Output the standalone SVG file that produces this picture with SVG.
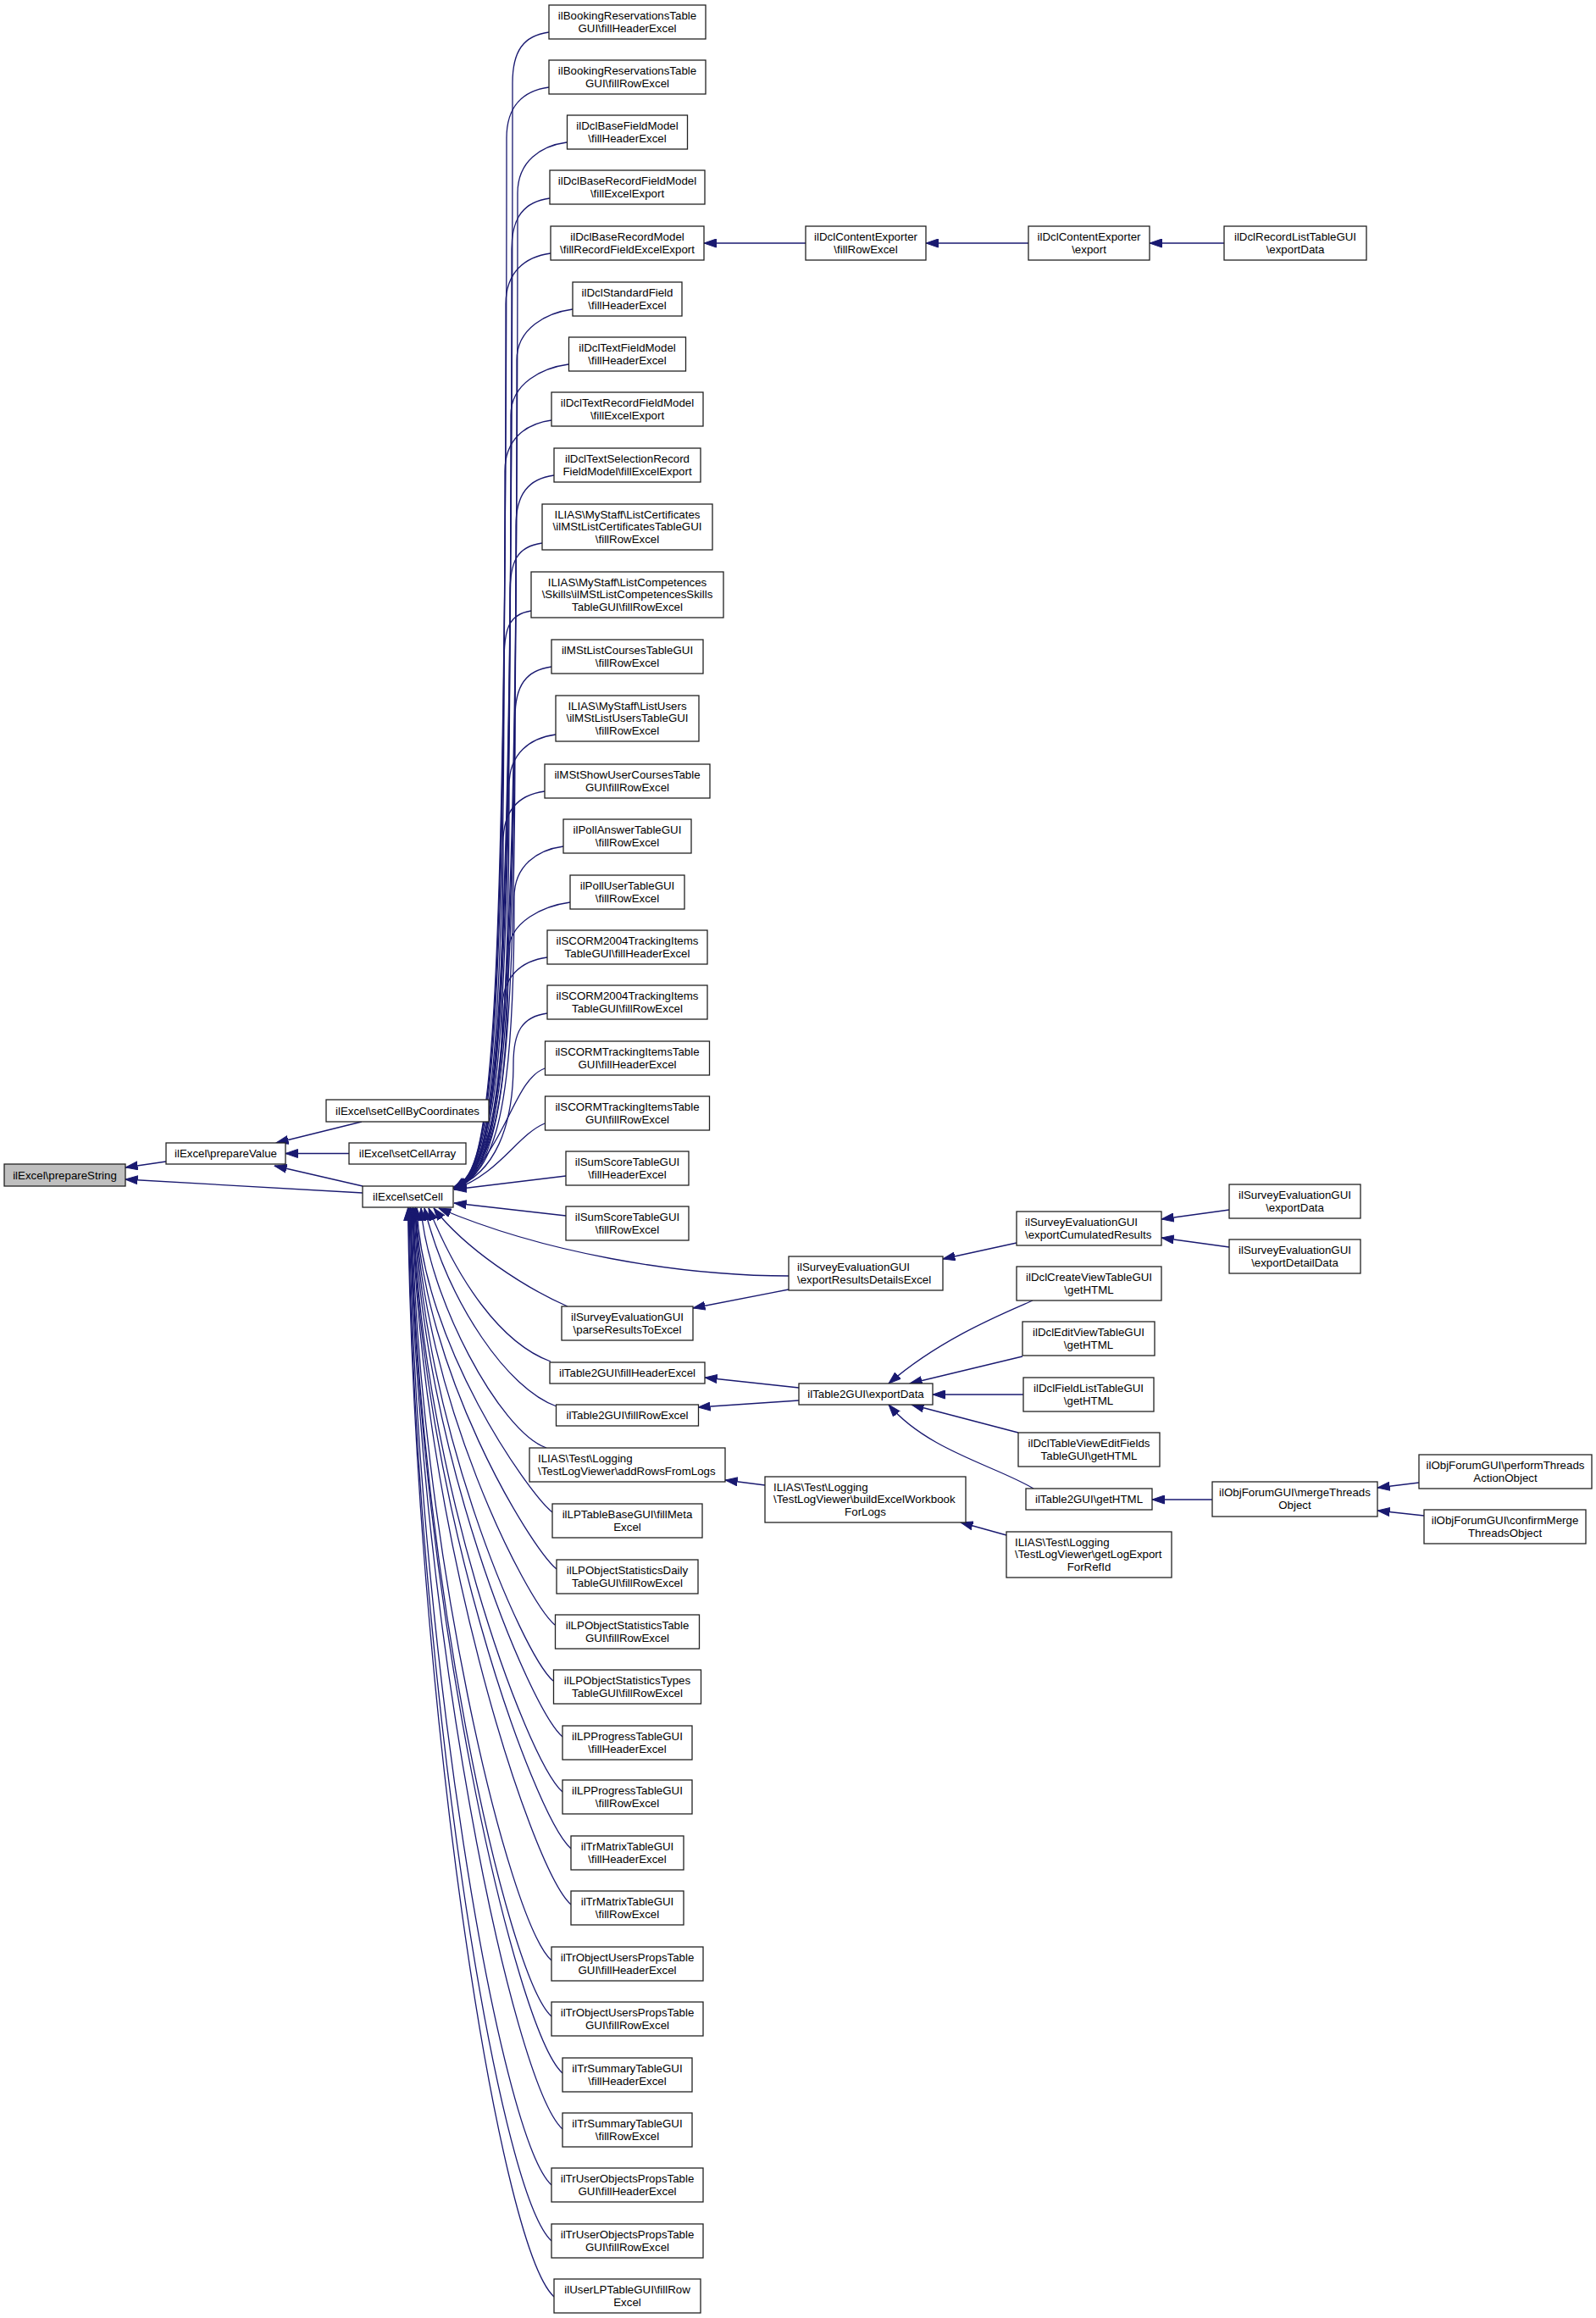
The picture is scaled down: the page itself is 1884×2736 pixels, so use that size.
<svg xmlns="http://www.w3.org/2000/svg" width="1884" height="2736" viewBox="0 0 1884 2736">
<style>
.n rect{fill:#fff;stroke:#222;stroke-width:1.3}
.n rect.g{fill:#bfbfbf}
.n text{font-family:'Liberation Sans',Arial,Helvetica,sans-serif;font-size:13.3px;fill:#000;text-anchor:middle}
.n text.l{text-anchor:start}
#edges path{fill:none;stroke:#191970;stroke-width:1.3;marker-end:url(#arr)}
</style>
<defs>
<marker id="arr" markerUnits="userSpaceOnUse" markerWidth="15" markerHeight="11" viewBox="0 0 15 11" refX="14.5" refY="5.5" orient="auto"><path d="M0,0.5 L14.5,5.5 L0,10.5 z" fill="#191970" stroke="#191970" stroke-width="1"/></marker>
</defs>
<rect width="1884" height="2736" fill="#fff"/>
<g id="edges">
<path d="M196,1371 L148,1378"/>
<path d="M428,1408 L148,1392"/>
<path d="M427,1324 L326,1349"/>
<path d="M412,1361.5 L337,1361.5"/>
<path d="M428,1400 L324,1376"/>
<path d="M648,38 C618,42 605,60 605,98 C605,1310 583,1385 536,1401"/>
<path d="M648,103 C618,107 598,125 598,163 C598,1310 576,1385 536,1402"/>
<path d="M669,168 C639,172 611,190 611,228 C611,1310 589,1385 536,1403"/>
<path d="M649,234 C619,238 604,256 604,294 C604,1310 582,1385 536,1404"/>
<path d="M650,299 C620,303 597,321 597,359 C597,1310 575,1385 536,1401"/>
<path d="M676,365 C646,369 610,387 610,425 C610,1310 588,1385 536,1402"/>
<path d="M671,430 C641,434 603,452 603,490 C603,1310 581,1385 536,1403"/>
<path d="M651,496 C621,500 596,518 596,556 C596,1310 574,1385 536,1404"/>
<path d="M654,561 C624,565 609,583 609,621 C609,1310 587,1385 536,1401"/>
<path d="M640,641 C610,645 602,663 602,701 C602,1310 580,1385 536,1402"/>
<path d="M627,721 C600,725 595,743 595,781 C595,1310 573,1385 536,1403"/>
<path d="M651,787 C621,791 608,809 608,847 C608,1310 586,1385 536,1404"/>
<path d="M656,867 C626,871 601,889 601,927 C601,1310 579,1385 536,1401"/>
<path d="M643,934 C613,938 594,956 594,994 C594,1310 572,1385 536,1402"/>
<path d="M665,999 C635,1003 607,1021 607,1059 C607,1310 585,1385 536,1403"/>
<path d="M673,1065 C643,1069 600,1087 600,1125 C600,1310 578,1385 536,1404"/>
<path d="M646,1130 C616,1134 593,1152 593,1190 C593,1310 571,1385 536,1401"/>
<path d="M646,1196 C616,1200 606,1218 606,1256 C606,1330 584,1385 536,1402"/>
<path d="M643,1261 C605,1275 598,1360 536,1403"/>
<path d="M643,1326 C610,1340 590,1385 536,1404"/>
<path d="M668,1388 L536,1404"/>
<path d="M668,1435 L536,1420"/>
<path d="M931,1506 C800,1506 640,1478 518,1426"/>
<path d="M670,1542 C620,1520 550,1475 512,1426"/>
<path d="M650,1607 C590,1585 540,1510 506,1426"/>
<path d="M657,1660 C600,1640 530,1540 501,1426"/>
<path d="M645,1709 C590,1690 505,1530 497,1426"/>
<path d="M652,1785 C623,1761 500,1588 492,1426"/>
<path d="M657,1852 C625,1825 499,1618 491,1426"/>
<path d="M655,1918 C620,1888 498.5,1647 490.5,1426"/>
<path d="M653,1984 C616,1952 498,1677 490,1426"/>
<path d="M664,2050 C624,2015 497,1707 489,1426"/>
<path d="M664,2115 C621,2077 496,1736 488,1426"/>
<path d="M674,2182 C629,2142 495.5,1766 487.5,1426"/>
<path d="M674,2248 C626,2205 495,1796 487,1426"/>
<path d="M651,2314 C600,2268 494,1826 486,1426"/>
<path d="M651,2380 C598,2332 493,1855 485,1426"/>
<path d="M664,2447 C608,2396 492.5,1885 484.5,1426"/>
<path d="M664,2513 C605,2459 492,1915 484,1426"/>
<path d="M651,2579 C590,2523 491,1945 483,1426"/>
<path d="M651,2645 C587,2586 490,1975 482,1426"/>
<path d="M654,2711 C588,2650 489.5,2004 481.5,1426"/>
<path d="M951,287 L831,287"/>
<path d="M1214,287 L1093,287"/>
<path d="M1445,287 L1357,287"/>
<path d="M1200,1467 L1113,1486"/>
<path d="M1451,1428 L1371,1439"/>
<path d="M1451,1472 L1371,1461"/>
<path d="M931,1522 L818,1544"/>
<path d="M943,1638 L832,1626"/>
<path d="M943,1653 L824,1661"/>
<path d="M1219,1535 C1185,1550 1110,1580 1049,1633"/>
<path d="M1207,1601 L1074,1633"/>
<path d="M1208,1646 L1101,1646"/>
<path d="M1202,1691 L1076,1658"/>
<path d="M1220,1757 C1175,1730 1095,1712 1049,1658"/>
<path d="M1431,1770 L1360,1770"/>
<path d="M1675,1750 L1626,1756"/>
<path d="M1681,1789 L1626,1783"/>
<path d="M903,1753 L856,1747"/>
<path d="M1188,1812 L1134,1797"/>
</g>
<g id="n_prepareString" class="n"><rect class="g" x="5" y="1374" width="143" height="26"/><text x="76.5" y="1391.5">ilExcel\prepareString</text></g>
<g id="n_prepareValue" class="n"><rect x="196" y="1349" width="141" height="25"/><text x="266.5" y="1366">ilExcel\prepareValue</text></g>
<g id="n_setCellByCoordinates" class="n"><rect x="385" y="1298" width="192" height="26"/><text x="481" y="1315.5">ilExcel\setCellByCoordinates</text></g>
<g id="n_setCellArray" class="n"><rect x="412" y="1349" width="138" height="25"/><text x="481" y="1366">ilExcel\setCellArray</text></g>
<g id="n_setCell" class="n"><rect x="428" y="1400" width="107" height="25"/><text x="481.5" y="1417">ilExcel\setCell</text></g>
<g id="n1" class="n"><rect x="648" y="6" width="185" height="40"/><text><tspan x="740.5" y="23">ilBookingReservationsTable</tspan><tspan x="740.5" y="37.5">GUI\fillHeaderExcel</tspan></text></g>
<g id="n2" class="n"><rect x="648" y="71" width="185" height="40"/><text><tspan x="740.5" y="88">ilBookingReservationsTable</tspan><tspan x="740.5" y="102.5">GUI\fillRowExcel</tspan></text></g>
<g id="n3" class="n"><rect x="669.5" y="136" width="142" height="40"/><text><tspan x="740.5" y="153">ilDclBaseFieldModel</tspan><tspan x="740.5" y="167.5">\fillHeaderExcel</tspan></text></g>
<g id="n4" class="n"><rect x="649" y="201" width="183" height="40"/><text><tspan x="740.5" y="218">ilDclBaseRecordFieldModel</tspan><tspan x="740.5" y="232.5">\fillExcelExport</tspan></text></g>
<g id="n5" class="n"><rect x="650" y="267" width="181" height="40"/><text><tspan x="740.5" y="284">ilDclBaseRecordModel</tspan><tspan x="740.5" y="298.5">\fillRecordFieldExcelExport</tspan></text></g>
<g id="n6" class="n"><rect x="676" y="333" width="129" height="40"/><text><tspan x="740.5" y="350">ilDclStandardField</tspan><tspan x="740.5" y="364.5">\fillHeaderExcel</tspan></text></g>
<g id="n7" class="n"><rect x="671.5" y="398" width="138" height="40"/><text><tspan x="740.5" y="415">ilDclTextFieldModel</tspan><tspan x="740.5" y="429.5">\fillHeaderExcel</tspan></text></g>
<g id="n8" class="n"><rect x="651" y="463" width="179" height="40"/><text><tspan x="740.5" y="480">ilDclTextRecordFieldModel</tspan><tspan x="740.5" y="494.5">\fillExcelExport</tspan></text></g>
<g id="n9" class="n"><rect x="654" y="529" width="173" height="40"/><text><tspan x="740.5" y="546">ilDclTextSelectionRecord</tspan><tspan x="740.5" y="560.5">FieldModel\fillExcelExport</tspan></text></g>
<g id="n10" class="n"><rect x="640" y="595" width="201" height="54"/><text><tspan x="740.5" y="611.5">ILIAS\MyStaff\ListCertificates</tspan><tspan x="740.5" y="626">\ilMStListCertificatesTableGUI</tspan><tspan x="740.5" y="640.5">\fillRowExcel</tspan></text></g>
<g id="n11" class="n"><rect x="627" y="675" width="227" height="54"/><text><tspan x="740.5" y="691.5">ILIAS\MyStaff\ListCompetences</tspan><tspan x="740.5" y="706">\Skills\ilMStListCompetencesSkills</tspan><tspan x="740.5" y="720.5">TableGUI\fillRowExcel</tspan></text></g>
<g id="n12" class="n"><rect x="651" y="755" width="179" height="40"/><text><tspan x="740.5" y="772">ilMStListCoursesTableGUI</tspan><tspan x="740.5" y="786.5">\fillRowExcel</tspan></text></g>
<g id="n13" class="n"><rect x="656" y="821" width="169" height="54"/><text><tspan x="740.5" y="837.5">ILIAS\MyStaff\ListUsers</tspan><tspan x="740.5" y="852">\ilMStListUsersTableGUI</tspan><tspan x="740.5" y="866.5">\fillRowExcel</tspan></text></g>
<g id="n14" class="n"><rect x="643" y="902" width="195" height="40"/><text><tspan x="740.5" y="919">ilMStShowUserCoursesTable</tspan><tspan x="740.5" y="933.5">GUI\fillRowExcel</tspan></text></g>
<g id="n15" class="n"><rect x="665" y="967" width="151" height="40"/><text><tspan x="740.5" y="984">ilPollAnswerTableGUI</tspan><tspan x="740.5" y="998.5">\fillRowExcel</tspan></text></g>
<g id="n16" class="n"><rect x="673" y="1033" width="135" height="40"/><text><tspan x="740.5" y="1050">ilPollUserTableGUI</tspan><tspan x="740.5" y="1064.5">\fillRowExcel</tspan></text></g>
<g id="n17" class="n"><rect x="646" y="1098" width="189" height="40"/><text><tspan x="740.5" y="1115">ilSCORM2004TrackingItems</tspan><tspan x="740.5" y="1129.5">TableGUI\fillHeaderExcel</tspan></text></g>
<g id="n18" class="n"><rect x="646" y="1163" width="189" height="40"/><text><tspan x="740.5" y="1180">ilSCORM2004TrackingItems</tspan><tspan x="740.5" y="1194.5">TableGUI\fillRowExcel</tspan></text></g>
<g id="n19" class="n"><rect x="643.5" y="1229" width="194" height="40"/><text><tspan x="740.5" y="1246">ilSCORMTrackingItemsTable</tspan><tspan x="740.5" y="1260.5">GUI\fillHeaderExcel</tspan></text></g>
<g id="n20" class="n"><rect x="643.5" y="1294" width="194" height="40"/><text><tspan x="740.5" y="1311">ilSCORMTrackingItemsTable</tspan><tspan x="740.5" y="1325.5">GUI\fillRowExcel</tspan></text></g>
<g id="n21" class="n"><rect x="668" y="1359" width="145" height="40"/><text><tspan x="740.5" y="1376">ilSumScoreTableGUI</tspan><tspan x="740.5" y="1390.5">\fillHeaderExcel</tspan></text></g>
<g id="n22" class="n"><rect x="668" y="1424" width="145" height="40"/><text><tspan x="740.5" y="1441">ilSumScoreTableGUI</tspan><tspan x="740.5" y="1455.5">\fillRowExcel</tspan></text></g>
<g id="n23" class="n"><rect x="663" y="1542" width="155" height="40"/><text><tspan x="740.5" y="1559">ilSurveyEvaluationGUI</tspan><tspan x="740.5" y="1573.5">\parseResultsToExcel</tspan></text></g>
<g id="n24" class="n"><rect x="649" y="1608" width="183" height="25"/><text x="740.5" y="1625">ilTable2GUI\fillHeaderExcel</text></g>
<g id="n25" class="n"><rect x="656.5" y="1658" width="168" height="25"/><text x="740.5" y="1675">ilTable2GUI\fillRowExcel</text></g>
<g id="n26" class="n"><rect x="625" y="1709" width="231" height="40"/><text class="l"><tspan x="635" y="1726">ILIAS\Test\Logging</tspan><tspan x="635" y="1740.5">\TestLogViewer\addRowsFromLogs</tspan></text></g>
<g id="n27" class="n"><rect x="652" y="1775" width="177" height="40"/><text><tspan x="740.5" y="1792">ilLPTableBaseGUI\fillMeta</tspan><tspan x="740.5" y="1806.5">Excel</tspan></text></g>
<g id="n28" class="n"><rect x="657" y="1841" width="167" height="40"/><text><tspan x="740.5" y="1858">ilLPObjectStatisticsDaily</tspan><tspan x="740.5" y="1872.5">TableGUI\fillRowExcel</tspan></text></g>
<g id="n29" class="n"><rect x="655.5" y="1906" width="170" height="40"/><text><tspan x="740.5" y="1923">ilLPObjectStatisticsTable</tspan><tspan x="740.5" y="1937.5">GUI\fillRowExcel</tspan></text></g>
<g id="n30" class="n"><rect x="653.5" y="1971" width="174" height="40"/><text><tspan x="740.5" y="1988">ilLPObjectStatisticsTypes</tspan><tspan x="740.5" y="2002.5">TableGUI\fillRowExcel</tspan></text></g>
<g id="n31" class="n"><rect x="664" y="2037" width="153" height="40"/><text><tspan x="740.5" y="2054">ilLPProgressTableGUI</tspan><tspan x="740.5" y="2068.5">\fillHeaderExcel</tspan></text></g>
<g id="n32" class="n"><rect x="664" y="2101" width="153" height="40"/><text><tspan x="740.5" y="2118">ilLPProgressTableGUI</tspan><tspan x="740.5" y="2132.5">\fillRowExcel</tspan></text></g>
<g id="n33" class="n"><rect x="674" y="2167" width="133" height="40"/><text><tspan x="740.5" y="2184">ilTrMatrixTableGUI</tspan><tspan x="740.5" y="2198.5">\fillHeaderExcel</tspan></text></g>
<g id="n34" class="n"><rect x="674" y="2232" width="133" height="40"/><text><tspan x="740.5" y="2249">ilTrMatrixTableGUI</tspan><tspan x="740.5" y="2263.5">\fillRowExcel</tspan></text></g>
<g id="n35" class="n"><rect x="651" y="2298" width="179" height="40"/><text><tspan x="740.5" y="2315">ilTrObjectUsersPropsTable</tspan><tspan x="740.5" y="2329.5">GUI\fillHeaderExcel</tspan></text></g>
<g id="n36" class="n"><rect x="651" y="2363" width="179" height="40"/><text><tspan x="740.5" y="2380">ilTrObjectUsersPropsTable</tspan><tspan x="740.5" y="2394.5">GUI\fillRowExcel</tspan></text></g>
<g id="n37" class="n"><rect x="664" y="2429" width="153" height="40"/><text><tspan x="740.5" y="2446">ilTrSummaryTableGUI</tspan><tspan x="740.5" y="2460.5">\fillHeaderExcel</tspan></text></g>
<g id="n38" class="n"><rect x="664" y="2494" width="153" height="40"/><text><tspan x="740.5" y="2511">ilTrSummaryTableGUI</tspan><tspan x="740.5" y="2525.5">\fillRowExcel</tspan></text></g>
<g id="n39" class="n"><rect x="651" y="2559" width="179" height="40"/><text><tspan x="740.5" y="2576">ilTrUserObjectsPropsTable</tspan><tspan x="740.5" y="2590.5">GUI\fillHeaderExcel</tspan></text></g>
<g id="n40" class="n"><rect x="651" y="2625" width="179" height="40"/><text><tspan x="740.5" y="2642">ilTrUserObjectsPropsTable</tspan><tspan x="740.5" y="2656.5">GUI\fillRowExcel</tspan></text></g>
<g id="n41" class="n"><rect x="654" y="2690" width="173" height="40"/><text><tspan x="740.5" y="2707">ilUserLPTableGUI\fillRow</tspan><tspan x="740.5" y="2721.5">Excel</tspan></text></g>
<g id="n_dclFillRowExcel" class="n"><rect x="951" y="267" width="142" height="40"/><text><tspan x="1022" y="284">ilDclContentExporter</tspan><tspan x="1022" y="298.5">\fillRowExcel</tspan></text></g>
<g id="n_dclExport" class="n"><rect x="1214" y="267" width="143" height="40"/><text><tspan x="1285.5" y="284">ilDclContentExporter</tspan><tspan x="1285.5" y="298.5">\export</tspan></text></g>
<g id="n_dclRecordList" class="n"><rect x="1445" y="267" width="168" height="40"/><text><tspan x="1529" y="284">ilDclRecordListTableGUI</tspan><tspan x="1529" y="298.5">\exportData</tspan></text></g>
<g id="n_exportResultsDetailsExcel" class="n"><rect x="931" y="1483" width="182" height="40"/><text class="l"><tspan x="941" y="1500">ilSurveyEvaluationGUI</tspan><tspan x="941" y="1514.5">\exportResultsDetailsExcel</tspan></text></g>
<g id="n_exportCumulatedResults" class="n"><rect x="1200" y="1430" width="171" height="40"/><text class="l"><tspan x="1210" y="1447">ilSurveyEvaluationGUI</tspan><tspan x="1210" y="1461.5">\exportCumulatedResults</tspan></text></g>
<g id="n_surveyExportData" class="n"><rect x="1451" y="1398" width="155" height="40"/><text><tspan x="1528.5" y="1415">ilSurveyEvaluationGUI</tspan><tspan x="1528.5" y="1429.5">\exportData</tspan></text></g>
<g id="n_surveyExportDetailData" class="n"><rect x="1451" y="1463" width="155" height="40"/><text><tspan x="1528.5" y="1480">ilSurveyEvaluationGUI</tspan><tspan x="1528.5" y="1494.5">\exportDetailData</tspan></text></g>
<g id="n_table2ExportData" class="n"><rect x="943" y="1633" width="158" height="25"/><text x="1022" y="1650">ilTable2GUI\exportData</text></g>
<g id="n_dclCreateView" class="n"><rect x="1200" y="1495" width="171" height="40"/><text><tspan x="1285.5" y="1512">ilDclCreateViewTableGUI</tspan><tspan x="1285.5" y="1526.5">\getHTML</tspan></text></g>
<g id="n_dclEditView" class="n"><rect x="1207" y="1560" width="156" height="40"/><text><tspan x="1285" y="1577">ilDclEditViewTableGUI</tspan><tspan x="1285" y="1591.5">\getHTML</tspan></text></g>
<g id="n_dclFieldList" class="n"><rect x="1208" y="1626" width="154" height="40"/><text><tspan x="1285" y="1643">ilDclFieldListTableGUI</tspan><tspan x="1285" y="1657.5">\getHTML</tspan></text></g>
<g id="n_dclTableViewEditFields" class="n"><rect x="1202" y="1691" width="167" height="40"/><text><tspan x="1285.5" y="1708">ilDclTableViewEditFields</tspan><tspan x="1285.5" y="1722.5">TableGUI\getHTML</tspan></text></g>
<g id="n_table2GetHTML" class="n"><rect x="1211" y="1757" width="149" height="25"/><text x="1285.5" y="1774">ilTable2GUI\getHTML</text></g>
<g id="n_buildExcelWorkbook" class="n"><rect x="903" y="1743" width="237" height="54"/><text class="l"><tspan x="913" y="1759.5">ILIAS\Test\Logging</tspan><tspan x="913" y="1774">\TestLogViewer\buildExcelWorkbook</tspan></text><text x="1021.5" y="1788.5">ForLogs</text></g>
<g id="n_getLogExport" class="n"><rect x="1188" y="1808" width="195" height="54"/><text class="l"><tspan x="1198" y="1824.5">ILIAS\Test\Logging</tspan><tspan x="1198" y="1839">\TestLogViewer\getLogExport</tspan></text><text x="1285.5" y="1853.5">ForRefId</text></g>
<g id="n_mergeThreads" class="n"><rect x="1431" y="1749" width="195" height="41"/><text><tspan x="1528.5" y="1766">ilObjForumGUI\mergeThreads</tspan><tspan x="1528.5" y="1780.5">Object</tspan></text></g>
<g id="n_performThreads" class="n"><rect x="1675" y="1717" width="204" height="40"/><text><tspan x="1777" y="1734">ilObjForumGUI\performThreads</tspan><tspan x="1777" y="1748.5">ActionObject</tspan></text></g>
<g id="n_confirmMerge" class="n"><rect x="1681" y="1782" width="191" height="40"/><text><tspan x="1776.5" y="1799">ilObjForumGUI\confirmMerge</tspan><tspan x="1776.5" y="1813.5">ThreadsObject</tspan></text></g>
</svg>
